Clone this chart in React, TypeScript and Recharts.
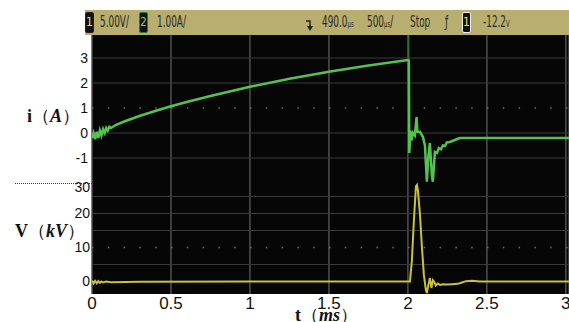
import React from "react";
import {
  CartesianGrid,
  ComposedChart,
  Line,
  ReferenceLine,
  XAxis,
  YAxis,
} from "recharts";

// current trace (ms, A)
const timeI = [
  0, 0.01, 0.02, 0.03, 0.04, 0.05, 0.06, 0.07, 0.08, 0.09, 0.1, 0.11, 0.12, 0.15,
  0.2, 0.3, 0.4, 0.5, 0.6, 0.75, 1.0, 1.25, 1.5, 1.75, 2.0, 2.006, 2.009, 2.016,
  2.022, 2.032, 2.044, 2.055, 2.06, 2.076, 2.095, 2.108, 2.12, 2.13, 2.139, 2.152,
  2.158, 2.171, 2.184, 2.196, 2.209, 2.222, 2.234, 2.247, 2.266, 2.297, 2.329, 3.02,
];
const currentA = [
  -0.2, 0.0, -0.25, 0.05, -0.2, 0.1, -0.1, 0.15, 0.0, 0.2, 0.1, 0.25, 0.2, 0.32,
  0.45, 0.68, 0.88, 1.07, 1.24, 1.48, 1.85, 2.17, 2.45, 2.7, 2.92, 2.9, -0.8, 0.1,
  -0.3, 0.0, -0.1, 0.64, 0.05, 0.05, -0.15, -0.5, -1.95, -0.9, -0.4, -1.7,
  -1.95, -0.76, -0.8, -0.6, -0.65, -0.5, -0.52, -0.38, -0.36, -0.28, -0.2, -0.2,
];
// faint fast transient at the switching instant
const spikeT = [2.005, 2.005];
const spikeA = [2.9, 3.92];

// voltage trace (ms, kV)
const timeV = [
  0, 0.01, 0.02, 0.03, 0.04, 0.05, 0.06, 0.07, 0.09, 0.12, 0.3, 1.0, 2.0, 2.013,
  2.025, 2.038, 2.051, 2.057, 2.063, 2.076, 2.089, 2.101, 2.114, 2.12, 2.13, 2.139,
  2.149, 2.158, 2.168, 2.177, 2.19, 2.203, 2.222, 2.247, 2.278, 2.316, 2.342, 2.367,
  2.405, 2.456, 3.02,
];
const voltageKV = [
  0.3, -0.6, 0.2, -0.5, 0.1, -0.4, 0.0, -0.3, 0.0, -0.2, -0.1, 0.0, 0.0, 0.0,
  6, 18, 28, 28.4, 27, 20, 10, 2, -2.5, -3.4, -1, 1.0,
  -1.9, 0.4, -0.2, -1.2, -0.6, -1.0, -0.8, -0.9, -0.8, -0.7, -0.3, 0.1,
  0.2, 0.0, 0.0,
];

const timeTicks = [0, 0.5, 1, 1.5, 2, 2.5, 3];
const currentTicks = [-1, 0, 1, 2, 3];
const voltageTicks = [0, 10, 20, 30];
const currentGrid = [-1, 0, 2, 3];
const voltageGrid = [5, 15, 20, 25];

const currentData = timeI.map((t, k) => ({ t, i: currentA[k] }));
const spikeData = spikeT.map((t, k) => ({ t, i: spikeA[k] }));
const voltageData = timeV.map((t, k) => ({ t, v: voltageKV[k] }));

const sans = "'Liberation Sans', Arial, sans-serif";
const narrow = "'Liberation Sans Narrow', 'DejaVu Sans Condensed', sans-serif";
const serif = "'Liberation Serif', 'Times New Roman', serif";

function XTick(props: any) {
  return (
    <text x={props.x} y={309} textAnchor="middle" fontSize={17} fontFamily={sans} fill="#111">
      {props.payload.value}
    </text>
  );
}

function YTickI(props: any) {
  return (
    <text x={88} y={props.y + 5} textAnchor="end" fontSize={14} fontFamily={sans} fill="#111">
      {props.payload.value}
    </text>
  );
}

function YTickV(props: any) {
  const shift = props.payload.value === 30 ? 8 : 0;
  return (
    <text x={90} y={props.y + 5 + shift} textAnchor="end" fontSize={14} fontFamily={sans} fill="#111">
      {props.payload.value}
    </text>
  );
}

function Title({ left, top, children }: { left: number; top: number; children: React.ReactNode }) {
  return (
    <div
      style={{
        position: "absolute",
        left,
        top,
        fontFamily: serif,
        fontWeight: "bold",
        fontSize: 18,
        lineHeight: "20px",
        color: "#111",
        whiteSpace: "nowrap",
      }}
    >
      {children}
    </div>
  );
}

function ChanBox({ left, label, border, color }: { left: number; label: string; border: string; color: string }) {
  return (
    <div
      style={{
        position: "absolute",
        left,
        top: 2,
        width: 7,
        height: 19,
        background: "#111",
        border: `1px solid ${border}`,
        borderRadius: 2,
        color,
        fontSize: 12,
        fontFamily: narrow,
        lineHeight: "19px",
        textAlign: "center",
      }}
    >
      {label}
    </div>
  );
}

function Header() {
  const txt = (left: number, s: React.ReactNode) => (
    <div
      style={{
        position: "absolute",
        left,
        top: 3,
        fontSize: 15,
        lineHeight: "18px",
        fontFamily: narrow,
        color: "#2a2a1c",
        whiteSpace: "nowrap",
        transform: "scaleX(0.66)",
        transformOrigin: "0 0",
      }}
    >
      {s}
    </div>
  );
  return (
    <div style={{ position: "absolute", left: 85, top: 10, width: 484, height: 25, background: "#b8ae70" }}>
      <ChanBox left={0} label="1" border="#222" color="#e8e060" />
      {txt(15, "5.00V/")}
      <ChanBox left={54} label="2" border="#2a7a2a" color="#6ad06a" />
      {txt(72, "1.00A/")}
      <svg style={{ position: "absolute", left: 220, top: 10 }} width={9} height={12}>
        <path d="M1 1 H5 V8" stroke="#222" strokeWidth={1.5} fill="none" />
        <path d="M2 6 L5 11 L8 6 Z" fill="#222" />
      </svg>
      {txt(237, <>490.0<span style={{ fontSize: 9 }}>µs</span></>)}
      {txt(282, <>500<span style={{ fontSize: 9 }}>µs</span>/</>)}
      {txt(325, "Stop")}
      {txt(360, "ƒ")}
      <ChanBox left={377} label="1" border="#eee" color="#e8e060" />
      {txt(398, <>-12.2<span style={{ fontSize: 9 }}>V</span></>)}
    </div>
  );
}

export default function App() {
  return (
    <div style={{ position: "absolute", left: 0, top: 0, width: 569, height: 322, background: "#fff", overflow: "hidden" }}>
      <ComposedChart width={569} height={322} margin={{ top: 35, right: 0, bottom: 0, left: 0 }}>
        <XAxis
          type="number"
          dataKey="t"
          domain={[0, 3.02]}
          ticks={timeTicks}
          interval={0}
          allowDataOverflow
          height={28}
          axisLine={false}
          tickLine={false}
          tick={<XTick />}
        />
        <YAxis
          yAxisId="i"
          type="number"
          domain={[-6.44, 3.92]}
          ticks={currentTicks}
          interval={0}
          allowDataOverflow
          width={46}
          axisLine={false}
          tickLine={false}
          tick={<YTickI />}
        />
        <YAxis
          yAxisId="v"
          type="number"
          domain={[-3.68, 72.5]}
          ticks={voltageTicks}
          interval={0}
          allowDataOverflow
          width={46}
          axisLine={false}
          tickLine={false}
          tick={<YTickV />}
        />
        <CartesianGrid yAxisId="i" fill="#060606" fillOpacity={1} horizontal={false} stroke="#505050" strokeWidth={1.5} />
        {currentGrid.map((g) => (
          <ReferenceLine key={`ig${g}`} yAxisId="i" y={g} stroke="#3a3a3a" strokeWidth={1} />
        ))}
        <ReferenceLine yAxisId="i" y={1} stroke="#6a6a6a" strokeWidth={1.5} strokeDasharray="1.5 14.3" />
        {voltageGrid.map((g) => (
          <ReferenceLine key={`vg${g}`} yAxisId="v" y={g} stroke="#3a3a3a" strokeWidth={1} />
        ))}
        <ReferenceLine yAxisId="v" y={10} stroke="#6a6a6a" strokeWidth={1.5} strokeDasharray="1.5 14.3" />
        <Line
          yAxisId="i"
          data={spikeData}
          dataKey="i"
          type="linear"
          stroke="#2f6e2f"
          strokeWidth={1.5}
          dot={false}
          isAnimationActive={false}
        />
        <Line
          yAxisId="v"
          data={voltageData}
          dataKey="v"
          type="linear"
          stroke="#c9c23a"
          strokeWidth={2}
          dot={false}
          isAnimationActive={false}
        />
        <Line
          yAxisId="i"
          data={currentData}
          dataKey="i"
          type="linear"
          stroke="#55c24f"
          strokeWidth={2.5}
          dot={false}
          isAnimationActive={false}
        />
      </ComposedChart>
      <Header />
      <Title left={27} top={106}>
        i<span style={{ fontWeight: "normal" }}>（</span><i>A</i><span style={{ fontWeight: "normal" }}>）</span>
      </Title>
      <Title left={15} top={221}>
        V<span style={{ fontWeight: "normal" }}>（</span><i>kV</i><span style={{ fontWeight: "normal" }}>）</span>
      </Title>
      <Title left={295} top={305}>
        t<span style={{ fontWeight: "normal" }}>（</span><i>ms</i><span style={{ fontWeight: "normal" }}>）</span>
      </Title>
      <div style={{ position: "absolute", left: 15, top: 183, width: 77, borderTop: "1px dotted #333" }} />
    </div>
  );
}
